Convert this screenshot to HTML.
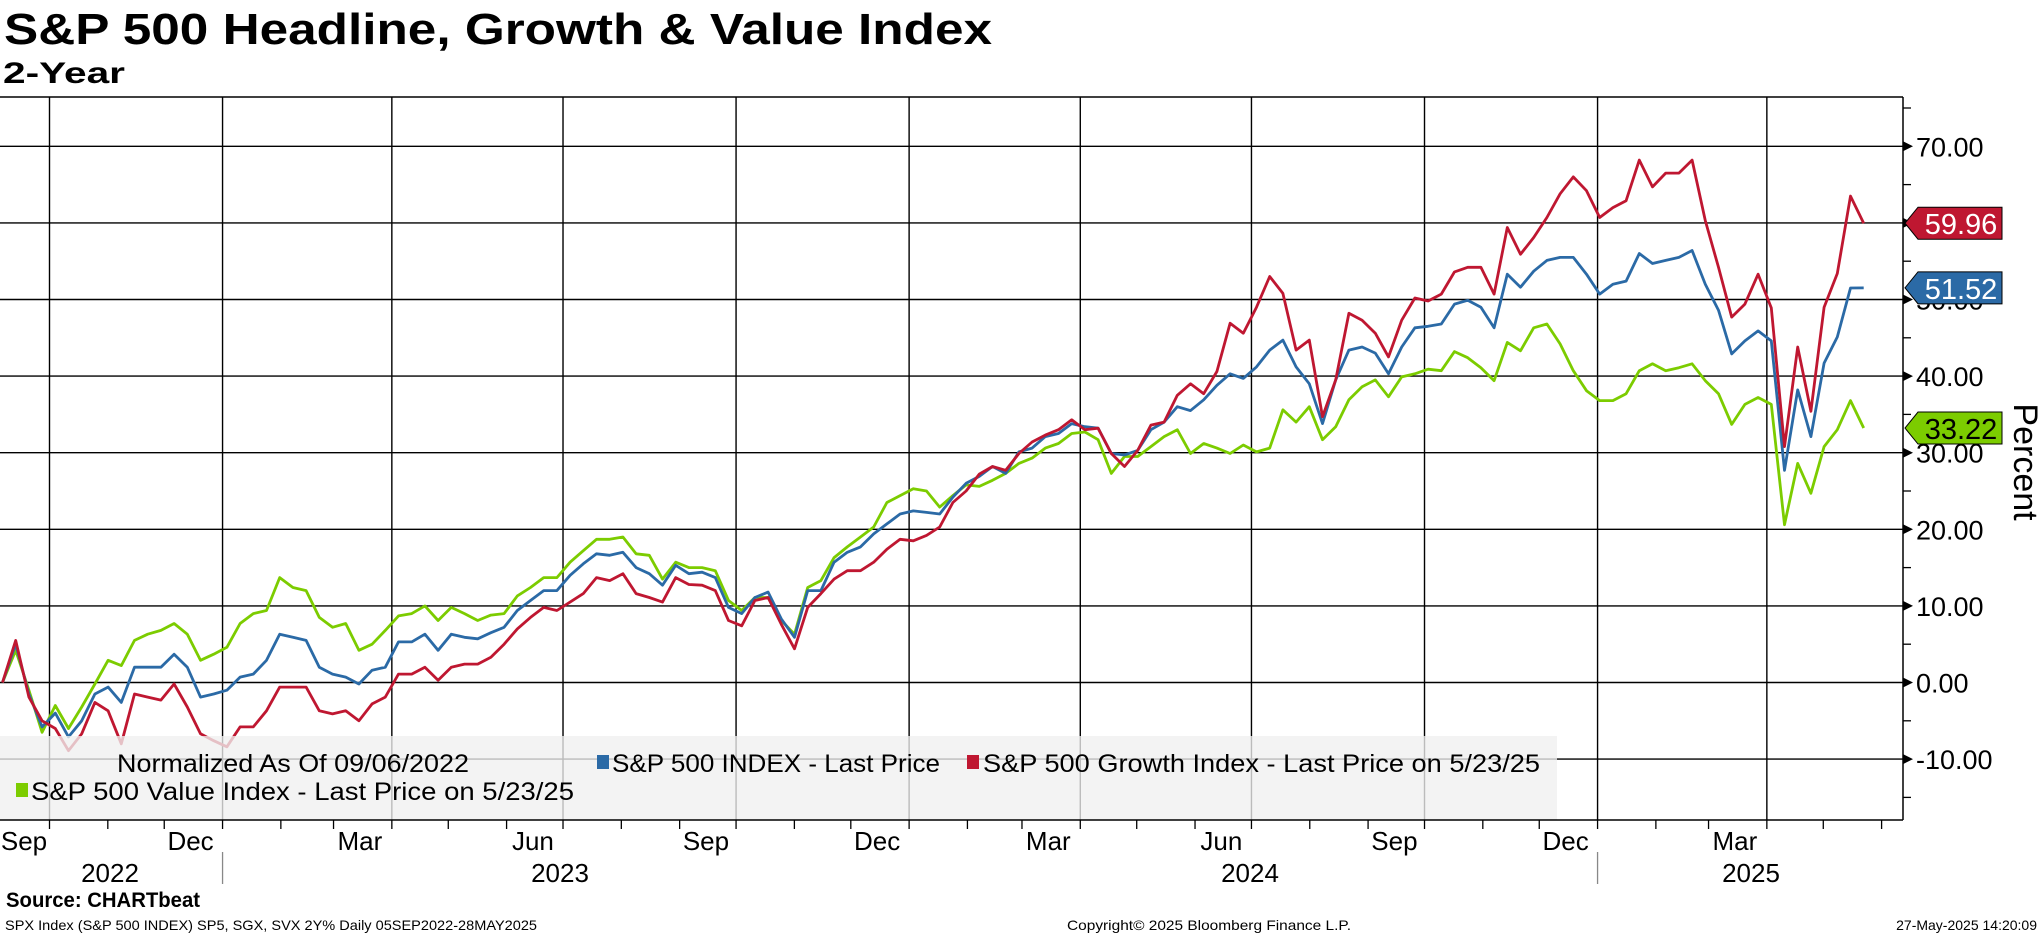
<!DOCTYPE html>
<html><head><meta charset="utf-8">
<style>
html,body{margin:0;padding:0;background:#fff;}
svg{display:block;font-family:"Liberation Sans",sans-serif;}
</style></head>
<body>
<svg id="chart" width="2041" height="936" viewBox="0 0 2041 936" xmlns="http://www.w3.org/2000/svg">
<text x="4" y="44" font-size="44" font-weight="bold" textLength="988" lengthAdjust="spacingAndGlyphs">S&amp;P 500 Headline, Growth &amp; Value Index</text>
<text x="3" y="83" font-size="30" font-weight="bold" textLength="122" lengthAdjust="spacingAndGlyphs">2-Year</text>
<g id="grid"></g>
<g id="series"></g>
<g id="legend"></g>
<g id="axes"></g>
<text x="6" y="907" font-size="21" font-weight="bold" textLength="194" lengthAdjust="spacingAndGlyphs">Source: CHARTbeat</text>
<text x="5" y="930" font-size="14" textLength="532" lengthAdjust="spacingAndGlyphs">SPX Index (S&amp;P 500 INDEX) SP5, SGX, SVX 2Y%  Daily 05SEP2022-28MAY2025</text>
<text x="1067" y="930" font-size="14" textLength="284" lengthAdjust="spacingAndGlyphs">Copyright© 2025 Bloomberg Finance L.P.</text>
<text x="2037" y="930" font-size="14" text-anchor="end">27-May-2025 14:20:09</text>
</svg>
<script>
// ---- data (weekly, starting 06-Sep-2022) ----
const seriesNames = ["S&P 500 INDEX", "S&P 500 Growth Index", "S&P 500 Value Index"];
const growthValues = [0,5.5,-1.9,-5,-6,-8.9,-6.7,-2.6,-3.7,-8,-1.5,-1.9,-2.3,-0.2,-3.2,-6.7,-7.6,-8.4,-5.8,-5.8,-3.7,-0.6,-0.6,-0.6,-3.7,-4.1,-3.7,-5,-2.8,-1.9,1.1,1.1,2,0.3,2,2.4,2.4,3.3,5,7,8.5,9.8,9.4,10.5,11.6,13.7,13.3,14.2,11.6,11.1,10.5,13.7,12.8,12.7,12,8.1,7.4,10.7,11.1,7.6,4.4,9.8,11.6,13.5,14.6,14.6,15.7,17.4,18.7,18.5,19.2,20.3,23.5,25,27.2,28.2,27.7,29.9,31.4,32.3,33,34.3,33,33.2,29.9,28.2,30.3,33.6,34,37.5,39,37.7,40.6,46.9,45.6,49,53,50.8,43.4,44.7,34.7,39.5,48.2,47.3,45.6,42.5,47.3,50.2,49.8,50.7,53.6,54.2,54.2,50.7,59.4,55.9,58.1,60.7,63.8,66,64.2,60.7,62,62.9,68.2,64.7,66.5,66.5,68.2,60.3,54.2,47.7,49.4,53.3,48.9,30.8,43.8,35.4,49,53.4,63.5,59.96];
const indexValues = [0,5,-1.5,-5.8,-4,-7.1,-5,-1.5,-0.6,-2.6,2,2,2,3.7,2,-1.9,-1.5,-1,0.7,1.1,2.9,6.3,5.9,5.5,2,1.1,0.7,-0.2,1.6,2,5.3,5.3,6.3,4.2,6.3,5.9,5.7,6.5,7.2,9.4,10.7,12,12,14,15.5,16.8,16.6,17,15,14.2,12.7,15.3,14.2,14.4,13.7,9.8,9,11.1,11.8,8.3,5.9,12,12,15.7,17,17.7,19.4,20.7,22,22.4,22.2,22,24.2,26,26.9,28.2,27.3,30.1,30.6,32.1,32.5,33.8,33.4,33.2,29.9,29.7,30.3,33,34,36,35.5,36.9,38.8,40.3,39.7,41.2,43.4,44.7,41.2,39,33.8,39.5,43.4,43.8,43,40.3,43.8,46.3,46.5,46.8,49.4,49.9,49,46.3,53.3,51.6,53.7,55.1,55.5,55.5,53.3,50.7,52,52.4,56,54.7,55.1,55.5,56.4,52,48.6,42.9,44.6,45.9,44.6,27.7,38.2,32.1,41.7,45.1,51.5,51.52];
const valueValues = [0,4.2,-1,-6.5,-3,-6,-3.2,-0.2,2.9,2.2,5.5,6.3,6.8,7.7,6.3,2.9,3.7,4.6,7.7,9,9.4,13.7,12.4,12,8.5,7.2,7.7,4.2,5,6.8,8.7,9,10,8.1,9.8,9,8.1,8.8,9,11.3,12.4,13.7,13.7,15.7,17.2,18.7,18.7,19,16.8,16.6,13.5,15.7,15,15,14.6,10.7,9.4,11.1,11.1,8.1,6.3,12.4,13.3,16.3,17.7,19,20.3,23.5,24.4,25.3,25,22.9,24.4,25.8,25.6,26.4,27.3,28.6,29.3,30.6,31.2,32.5,32.7,31.7,27.3,29.5,29.5,30.8,32.1,33,29.9,31.2,30.6,29.9,31,30.1,30.6,35.6,34,36,31.7,33.4,36.9,38.6,39.5,37.3,39.9,40.3,40.9,40.7,43.2,42.4,41.1,39.4,44.4,43.3,46.3,46.8,44.2,40.7,38.1,36.8,36.8,37.7,40.7,41.6,40.7,41.1,41.6,39.4,37.7,33.7,36.3,37.2,36.3,20.6,28.6,24.7,30.8,33,36.8,33.22];
const yTicks = [-10, 0, 10, 20, 30, 40, 50, 60, 70];
const yTickLabels = ["-10.00","0.00","10.00","20.00","30.00","40.00","50.00","60.00","70.00"];
const monthLabels = ["Sep","Dec","Mar","Jun","Sep","Dec","Mar","Jun","Sep","Dec","Mar"];
const monthLabelDates = ["2022-09-15","2022-12-15","2023-03-15","2023-06-15","2023-09-15","2023-12-15","2024-03-15","2024-06-15","2024-09-15","2024-12-15","2025-03-15"];
const quarterLines = ["2022-10-01","2023-01-01","2023-04-01","2023-07-01","2023-10-01","2024-01-01","2024-04-01","2024-07-01","2024-10-01","2025-01-01","2025-04-01"];
const yearLabels = ["2022","2023","2024","2025"];
const yearLabelX = [110, 560, 1250, 1751];
const yearSeparators = ["2023-01-01","2025-01-01"];

// ---- scales ----
const NS = "http://www.w3.org/2000/svg";
const PL = 0, PR = 1903, PT = 97, PB = 820;
const ORIGIN = Date.UTC(2022, 9, 1);
function xDate(s){ const p = s.split("-").map(Number); return 49.5 + (Date.UTC(p[0], p[1]-1, p[2]) - ORIGIN) / 86400000 * 1.881; }
function xIdx(i){ return 2.5 + i * 13.2; }
function yVal(v){ return 682.5 - v * 7.66; }
function el(tag, attrs, parent){ const e = document.createElementNS(NS, tag); for (const k in attrs) e.setAttribute(k, attrs[k]); parent.appendChild(e); return e; }

const gridG = document.getElementById("grid");
const axesG = document.getElementById("axes");
const seriesG = document.getElementById("series");
const legendG = document.getElementById("legend");

yTicks.forEach((t, i) => {
  const y = yVal(t);
  if (y < PT || y > PB) return;
  const l = el("line", {x1: PL, x2: PR, y1: y, y2: y, stroke: "#000", "stroke-width": 1.4}, gridG);
  
  
});
quarterLines.forEach(d => {
  const x = xDate(d);
  const l = el("line", {x1: x, x2: x, y1: PT, y2: PB, stroke: "#000", "stroke-width": 1.4}, gridG);
  
  
});
const plotTop = el("line", {x1: 0, x2: PR, y1: PT, y2: PT, stroke: "#000", "stroke-width": 1.4}, gridG);



const seriesDefs = [
  {vals: valueValues, color: "#7ccc00", name: "value-line"},
  {vals: indexValues, color: "#2b6aa6", name: "index-line"},
  {vals: growthValues, color: "#bf1731", name: "growth-line"}
];
seriesDefs.forEach(s => {
  const d = s.vals.map((v, i) => (i ? "L" : "M") + xIdx(i).toFixed(1) + "," + yVal(v).toFixed(1)).join("");
  const p = el("path", {d: d, fill: "none", stroke: s.color, "stroke-width": 2.8, "stroke-linejoin": "round"}, seriesG);
  
  
});

const lb = el("rect", {x: 0, y: 736, width: 1557, height: 84, fill: "rgba(240,240,240,0.78)"}, legendG);


const lt = el("text", {x: 117, y: 772, "font-size": 25, textLength: 352, lengthAdjust: "spacingAndGlyphs"}, legendG);
lt.textContent = "Normalized As Of 09/06/2022";


const legendItems = [
  {sx: 597, tx: 612, y: 772, w: 328, color: "#2b6aa6", label: seriesNames[0] + " - Last Price", name: "legend-entry-index"},
  {sx: 967, tx: 983, y: 772, w: 557, color: "#bf1731", label: seriesNames[1] + " - Last Price on 5/23/25", name: "legend-entry-growth"},
  {sx: 16, tx: 31, y: 800, w: 543, color: "#7ccc00", label: seriesNames[2] + " - Last Price on 5/23/25", name: "legend-entry-value"}
];
legendItems.forEach(it => {
  const g = el("g", {}, legendG);
  
  
  el("rect", {x: it.sx, y: it.y - 17, width: 12, height: 14, fill: it.color}, g);
  const t = el("text", {x: it.tx, y: it.y, "font-size": 25, textLength: it.w, lengthAdjust: "spacingAndGlyphs"}, g);
  t.textContent = it.label;
});

const ra = el("line", {x1: PR, x2: PR, y1: PT, y2: PB, stroke: "#000", "stroke-width": 1.5}, axesG);


const ba = el("line", {x1: 0, x2: PR, y1: PB, y2: PB, stroke: "#000", "stroke-width": 1.5}, axesG);



yTicks.forEach((t, i) => {
  const y = yVal(t);
  const tri = el("polygon", {points: `${PR},${y-5} ${PR+10},${y} ${PR},${y+5}`, fill: "#000"}, axesG);
  
  
  const tx = el("text", {x: 1916, y: y + 10, "font-size": 27}, axesG);
  tx.textContent = yTickLabels[i];
  
  
  const my = yVal(t + 5);
  if (my > PT) {
    const m = el("line", {x1: PR, x2: PR + 8, y1: my, y2: my, stroke: "#000", "stroke-width": 1.3}, axesG);
    
    
  }
});
const m0 = el("line", {x1: PR, x2: PR + 8, y1: yVal(-15), y2: yVal(-15), stroke: "#000", "stroke-width": 1.3}, axesG);



const tags = [
  {v: growthValues[growthValues.length-1], fill: "#bf1731", tc: "#fff", name: "growth-last-value-tag"},
  {v: indexValues[indexValues.length-1], fill: "#2b6aa6", tc: "#fff", name: "index-last-value-tag"},
  {v: valueValues[valueValues.length-1], fill: "#7ccc00", tc: "#000", name: "value-last-value-tag"}
];
tags.forEach(tg => {
  const y = yVal(tg.v);
  const g = el("g", {}, axesG);
  
  
  el("polygon", {points: `1905,${y} 1918,${y-16} 2002,${y-16} 2002,${y+16} 1918,${y+16}`, fill: tg.fill, stroke: "#000", "stroke-width": 1}, g);
  const t = el("text", {x: 1961, y: y + 11, "font-size": 29, fill: tg.tc, "text-anchor": "middle"}, g);
  t.textContent = tg.v.toFixed(2);
});

const yt = el("text", {x: 0, y: 0, "font-size": 34, transform: "translate(2014,462) rotate(90)", "text-anchor": "middle"}, axesG);
yt.textContent = "Percent";



for (let k = 0; k < 33; k++) {
  const yr = 2022 + Math.floor((9 + k) / 12), mo = (9 + k) % 12 + 1;
  const x = xDate(`${yr}-${String(mo).padStart(2,"0")}-01`);
  if (x > PR) break;
  const t = el("line", {x1: x, x2: x, y1: PB, y2: PB + 9, stroke: "#000", "stroke-width": 1.3}, axesG);
  
  
}
monthLabels.forEach((m, i) => {
  const t = el("text", {x: Math.max(24, xDate(monthLabelDates[i])), y: 850, "font-size": 26, "text-anchor": "middle"}, axesG);
  t.textContent = m;
  
  
});
yearSeparators.forEach(d => {
  const x = xDate(d);
  const l = el("line", {x1: x, x2: x, y1: 852, y2: 884, stroke: "#888", "stroke-width": 1.3}, axesG);
  
  
});
yearLabels.forEach((y, i) => {
  const t = el("text", {x: yearLabelX[i], y: 882, "font-size": 26, "text-anchor": "middle"}, axesG);
  t.textContent = y;
  
  
});
</script>
</body></html>
